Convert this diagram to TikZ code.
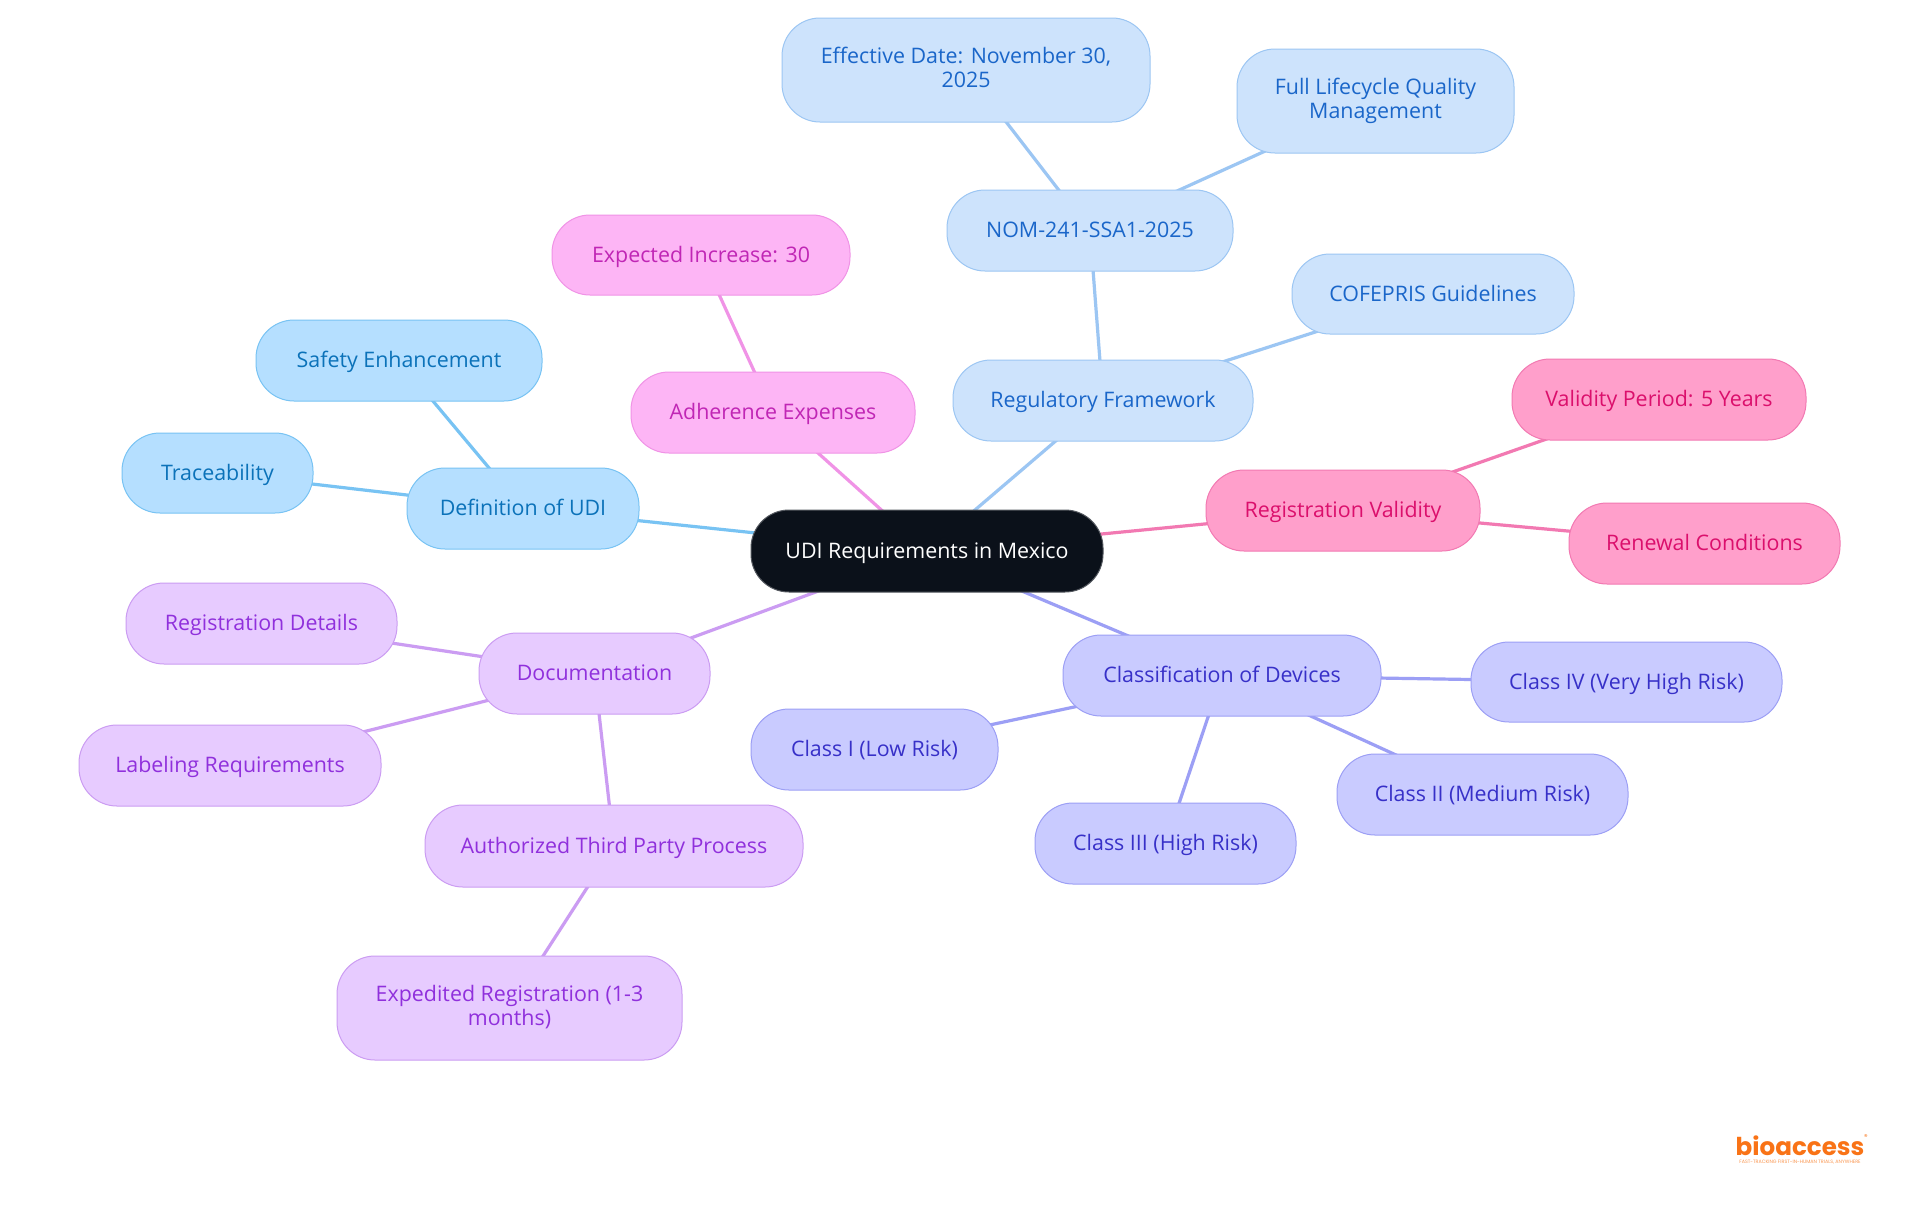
\documentclass[tikz,border=0pt]{standalone}
\usepackage{fontspec}
\setmainfont{Open Sans}
\newfontfamily\logofont{Poppins}
\usetikzlibrary{backgrounds}
\definecolor{rootfill}{HTML}{0B111A}
\definecolor{bluefill}{HTML}{B5DFFF}\definecolor{bluedraw}{HTML}{78C3F3}\definecolor{bluetext}{HTML}{0B72B9}
\definecolor{skyfill}{HTML}{CDE3FC}\definecolor{skydraw}{HTML}{9CC6F3}\definecolor{skytext}{HTML}{1A66C9}
\definecolor{magfill}{HTML}{FDB5F5}\definecolor{magdraw}{HTML}{F093E6}\definecolor{magtext}{HTML}{C026B5}
\definecolor{pinkfill}{HTML}{FF9FCB}\definecolor{pinkdraw}{HTML}{F279B2}\definecolor{pinktext}{HTML}{DB0F6C}
\definecolor{indfill}{HTML}{C9CBFF}\definecolor{inddraw}{HTML}{9C9FF5}\definecolor{indtext}{HTML}{3730C8}
\definecolor{purfill}{HTML}{E7CBFF}\definecolor{purdraw}{HTML}{CB9CF2}\definecolor{purtext}{HTML}{9030DC}
\definecolor{logoorange}{HTML}{F97316}
\newcommand{\linestrut}{\rule[-2.6pt]{0pt}{12.2pt}}
\tikzset{
  x=0.5pt,y=-0.5pt,
  base/.style={rounded corners=19pt,line width=0.5pt,align=center,font=\fontsize{10.7}{12.3}\selectfont,inner sep=0pt,anchor=center,
    execute at begin node=\linestrut,execute at end node=\linestrut},
  rootbox/.style={base,fill=rootfill,draw=rootfill!70!white,text=white},
  bluebox/.style={base,fill=bluefill,draw=bluedraw,text=bluetext},
  skybox/.style={base,fill=skyfill,draw=skydraw,text=skytext},
  magbox/.style={base,fill=magfill,draw=magdraw,text=magtext},
  pinkbox/.style={base,fill=pinkfill,draw=pinkdraw,text=pinktext},
  indbox/.style={base,fill=indfill,draw=inddraw,text=indtext},
  purbox/.style={base,fill=purfill,draw=purdraw,text=purtext},
  link/.style={line width=1.6pt},
}
\newcommand{\boxnode}[7]{%
  \pgfmathsetmacro{\cxx}{(#3+#5)/2}\pgfmathsetmacro{\cyy}{(#4+#6)/2}%
  \pgfmathsetmacro{\www}{(#5-#3)/2}\pgfmathsetmacro{\hhh}{(#6-#4)/2}%
  \node[#1,minimum width=\www pt,minimum height=\hhh pt] (#2) at (\cxx,\cyy) {#7};}
\begin{document}
\begin{tikzpicture}
\useasboundingbox (0,0) rectangle (1920,1215);
\boxnode{rootbox}{root}{751}{510}{1103}{592}{UDI Requirements in Mexico}
\boxnode{skybox}{eff}{782}{18}{1150}{122}{Effective Date: November 30,\\2025}
\boxnode{skybox}{life}{1237}{49}{1514}{153}{Full Lifecycle Quality\\Management}
\boxnode{skybox}{nom}{947}{190}{1233}{271}{NOM-241-SSA1-2025}
\boxnode{skybox}{cof}{1292}{254}{1574}{334}{COFEPRIS Guidelines}
\boxnode{skybox}{reg}{953}{360}{1253}{441}{Regulatory Framework}
\boxnode{magbox}{exp}{552}{215}{850}{295}{Expected Increase: 30}
\boxnode{magbox}{adh}{631}{372}{915}{453}{Adherence Expenses}
\boxnode{bluebox}{saf}{256}{320}{542}{401}{Safety Enhancement}
\boxnode{bluebox}{tra}{122}{433}{313}{513}{Traceability}
\boxnode{bluebox}{def}{407}{468}{639}{549}{Definition of UDI}
\boxnode{pinkbox}{val}{1206}{470}{1480}{551}{Registration Validity}
\boxnode{pinkbox}{per}{1512}{359}{1806}{440}{Validity Period: 5 Years}
\boxnode{pinkbox}{ren}{1569}{503}{1840}{584}{Renewal Conditions}
\boxnode{purbox}{doc}{479}{633}{710}{714}{Documentation}
\boxnode{purbox}{det}{126}{583}{397}{664}{Registration Details}
\boxnode{purbox}{lab}{79}{725}{381}{806}{Labeling Requirements}
\boxnode{purbox}{atp}{425}{805}{803}{887}{Authorized Third Party Process}
\boxnode{purbox}{edr}{337}{956}{682}{1060}{Expedited Registration (1-3\\months)}
\boxnode{indbox}{cla}{1063}{635}{1381}{716}{Classification of Devices}
\boxnode{indbox}{civ}{1471}{642}{1782}{722}{Class IV (Very High Risk)}
\boxnode{indbox}{cii}{1337}{754}{1628}{835}{Class II (Medium Risk)}
\boxnode{indbox}{ciii}{1035}{803}{1296}{884}{Class III (High Risk)}
\boxnode{indbox}{ci}{751}{709}{998}{790}{Class I (Low Risk)}
\node[inner sep=0pt,anchor=base,text=logoorange,font=\logofont\bfseries\fontsize{12.3}{14}\selectfont] (logo) at (1800,1155) {bioaccess};
\node[inner sep=0pt,anchor=center,text=logoorange,font=\logofont\fontsize{3.5}{4}\selectfont] (rmark) at (1866,1137) {®};
\node[inner sep=0pt,anchor=center,text=logoorange!75,font=\logofont\fontsize{2.4}{3}\selectfont] (tag) at (1800,1162) {FAST-TRACKING FIRST-IN-HUMAN TRIALS, ANYWHERE};
\begin{scope}[on background layer]
\fill[white] (0,0) rectangle (1920,1215);
\foreach \a/\b/\c in {root/def/bluedraw,def/saf/bluedraw,def/tra/bluedraw,
  root/reg/skydraw,reg/nom/skydraw,reg/cof/skydraw,nom/eff/skydraw,nom/life/skydraw,
  root/adh/magdraw,adh/exp/magdraw,
  root/val/pinkdraw,val/per/pinkdraw,val/ren/pinkdraw,
  root/cla/inddraw,cla/civ/inddraw,cla/cii/inddraw,cla/ciii/inddraw,cla/ci/inddraw,
  root/doc/purdraw,doc/det/purdraw,doc/lab/purdraw,doc/atp/purdraw,atp/edr/purdraw}
  \draw[link,draw=\c] (\a.center) -- (\b.center);
\end{scope}
\end{tikzpicture}
\end{document}
